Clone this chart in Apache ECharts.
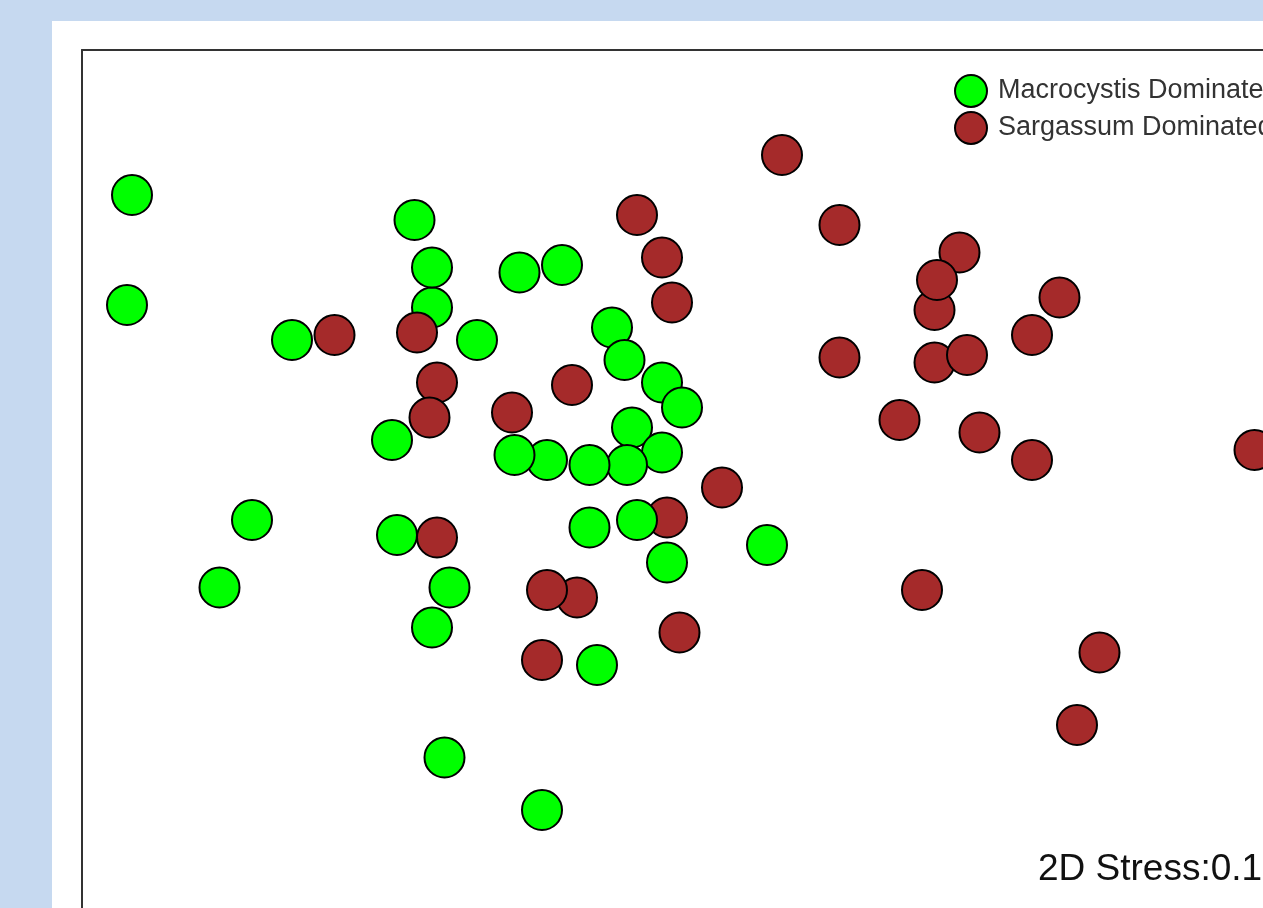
<!DOCTYPE html>
<html>
<head>
<meta charset="utf-8">
<script src="https://cdn.jsdelivr.net/npm/echarts@6/dist/echarts.min.js"></script>
<style>
  html, body { margin: 0; padding: 0; background: #c6d9f0; width: 1263px; height: 908px; overflow: hidden; }
  #chart { position: absolute; left: 52px; top: 21px; width: 1211px; height: 887px; background: #ffffff; }
</style>
</head>
<body>
<div id="chart"></div>
<script>
// NMDS ordination scores (axis 1, axis 2)
const seriesNames = ['Macrocystis Dominated', 'Sargassum Dominated'];

const macrocystis = [
  [-2.00, 1.02], [-2.02, 0.58], [-0.87, 0.92], [-0.80, 0.57], [-0.80, 0.73],
  [-1.36, 0.44], [-0.62, 0.44], [-0.45, 0.71], [-0.28, 0.74], [-0.08, 0.49],
  [-0.03, 0.36], [0.12, 0.27], [0.20, 0.17], [0.00, 0.09], [0.12, -0.01],
  [-0.02, -0.06], [-0.17, -0.06], [-0.34, -0.04], [-0.96, 0.04], [-1.52, -0.28],
  [-0.94, -0.34], [-1.65, -0.55], [-0.80, -0.71], [-0.73, -0.55], [-0.17, -0.31],
  [0.14, -0.45], [0.54, -0.38], [-0.14, -0.86], [-0.75, -1.23], [-0.36, -1.44]
];
// Macrocystis samples plotted above overlapping Sargassum samples
const macrocystisFront = [
  [-0.47, -0.02], [0.02, -0.28]
];

const sargassum = [
  [0.60, 1.18], [0.02, 0.94], [0.12, 0.77], [0.16, 0.59], [0.83, 0.90],
  [1.31, 0.79], [1.21, 0.56], [1.22, 0.68], [1.60, 0.46], [1.71, 0.61],
  [-1.19, 0.46], [-0.86, 0.47], [-0.78, 0.27], [-0.81, 0.13], [-0.48, 0.15],
  [-0.24, 0.26], [0.83, 0.37], [1.21, 0.35], [1.34, 0.38], [1.07, 0.12],
  [1.39, 0.07], [1.60, -0.04], [2.49, 0.00], [0.36, -0.15], [0.14, -0.27],
  [-0.78, -0.35], [-0.22, -0.59], [-0.34, -0.56], [0.19, -0.73], [-0.36, -0.84],
  [1.16, -0.56], [1.87, -0.81], [1.78, -1.10]
];

// visible axis extents of the ordination plot
const xRange = [-2.2, 2.524];
const yRange = [-1.832, 1.6];

const stressLabel = '2D Stress:0.1';

const GREEN = '#00ff00';
const RED = '#a52a2a';
const FONT = "'Liberation Sans', Arial, sans-serif";

const chart = echarts.init(document.getElementById('chart'), null, { renderer: 'canvas' });

function pointSeries(name, data, color) {
  return {
    name: name,
    type: 'scatter',
    data: data,
    symbol: 'circle',
    symbolSize: 40,
    clip: false,
    itemStyle: { color: color, borderColor: '#000000', borderWidth: 2, opacity: 1 },
    emphasis: { disabled: true },
    animation: false
  };
}

const frameLine = { show: true, onZero: false, lineStyle: { color: '#333333', width: 2 } };

chart.setOption({
  animation: false,
  backgroundColor: '#ffffff',
  grid: {
    left: 30, top: 29, right: 0, bottom: 0,
    show: false, containLabel: false
  },
  xAxis: {
    type: 'value', min: xRange[0], max: xRange[1], position: 'top',
    axisLine: frameLine, axisTick: { show: false }, axisLabel: { show: false },
    splitLine: { show: false }
  },
  yAxis: {
    type: 'value', min: yRange[0], max: yRange[1], position: 'left',
    axisLine: frameLine, axisTick: { show: false }, axisLabel: { show: false },
    splitLine: { show: false }
  },
  legend: {
    data: seriesNames,
    orient: 'vertical',
    left: 897, top: 48,
    itemWidth: 44, itemHeight: 32, itemGap: 3,
    icon: 'circle',
    selectedMode: false,
    textStyle: { fontSize: 27, color: '#333333', fontFamily: FONT }
  },
  graphic: [{
    type: 'text',
    left: 986, top: 830,
    style: { text: stressLabel, font: '37px ' + FONT, fill: '#111111' }
  }],
  series: [
    pointSeries(seriesNames[0], macrocystis, GREEN),
    pointSeries(seriesNames[1], sargassum, RED),
    pointSeries(seriesNames[0], macrocystisFront, GREEN)
  ]
});
</script>
</body>
</html>
